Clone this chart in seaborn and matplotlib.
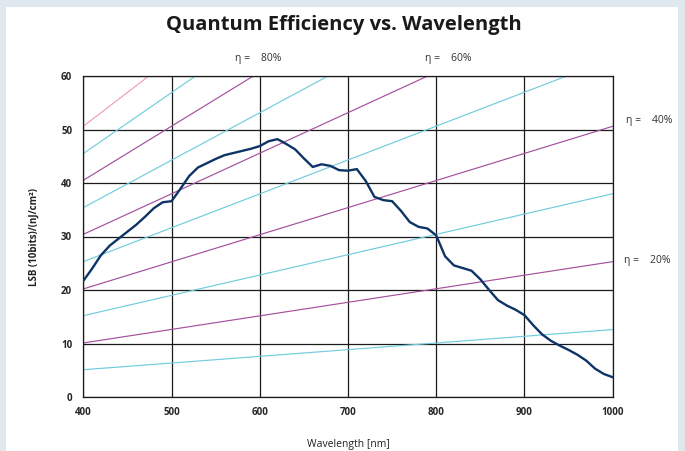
import numpy as np
import pandas as pd
import matplotlib
matplotlib.use("Agg")
import matplotlib.pyplot as plt
from matplotlib.patches import Rectangle
import seaborn as sns

# --- Data ---
wavelength = [400, 410, 420, 430, 440, 450, 460, 470, 480, 490,
              500, 510, 520, 530, 540, 550, 560, 570, 580, 590,
              600, 610, 620, 630, 640, 650, 660, 670, 680, 690,
              700, 710, 720, 730, 740, 750, 760, 770, 780, 790,
              800, 810, 820, 830, 840, 850, 860, 870, 880, 890,
              900, 910, 920, 930, 940, 950, 960, 970, 980, 990, 1000]
lsb = [21.7, 24.0, 26.5, 28.3, 29.6, 30.9, 32.2, 33.7, 35.3, 36.4,
       36.6, 38.9, 41.3, 42.9, 43.7, 44.5, 45.2, 45.6, 46.0, 46.4,
       46.9, 47.8, 48.2, 47.3, 46.3, 44.6, 43.0, 43.5, 43.2, 42.4,
       42.3, 42.6, 40.4, 37.4, 36.8, 36.6, 34.8, 32.7, 31.8, 31.5,
       30.2, 26.3, 24.6, 24.1, 23.6, 22.0, 20.0, 18.1, 17.1, 16.3,
       15.3, 13.4, 11.7, 10.5, 9.6, 8.8, 7.9, 6.8, 5.3, 4.3, 3.7]

# iso-efficiency lines: value at 400 nm and at 1000 nm
eta_pct = [10, 20, 30, 40, 50, 60, 70, 80, 90, 100]
eta_at_400 = [5.1, 10.1, 15.2, 20.2, 25.3, 30.4, 35.4, 40.5, 45.5, 50.6]
eta_at_1000 = [12.6, 25.3, 38.0, 50.6, 63.3, 75.9, 88.6, 101.2, 113.9, 126.5]
eta_colors = ["#72CCDD", "#A4509E", "#72CCDD", "#A4509E", "#72CCDD",
              "#A4509E", "#72CCDD", "#A4509E", "#72CCDD", "#F29BC0"]

x_ticks = [400, 500, 600, 700, 800, 900, 1000]
y_ticks = [0, 10, 20, 30, 40, 50, 60]

# --- Build tables ---
curve = pd.DataFrame({"Wavelength": wavelength, "LSB": lsb})
iso = pd.DataFrame({
    "Wavelength": [400] * len(eta_pct) + [1000] * len(eta_pct),
    "LSB": eta_at_400 + eta_at_1000,
    "eta": eta_pct + eta_pct,
})

sns.set_style("white")
plt.rcParams['font.family'] = ['Open Sans', 'DejaVu Sans']

fig = plt.figure(figsize=(6.85, 4.51), dpi=100)
fig.patch.set_facecolor("#dfe7ef")
# white panel behind the chart
fig.patches.append(Rectangle((6 / 685, 0), 672 / 685, 444 / 451,
                             transform=fig.transFigure, facecolor="white",
                             edgecolor="none", zorder=-5))
ax = fig.add_axes([83.3 / 685, 54 / 451, 529.4 / 685, 321 / 451])
ax.set_zorder(2)
ax.set_facecolor("white")

# iso-efficiency lines
sns.lineplot(data=iso, x="Wavelength", y="LSB", hue="eta",
             palette=dict(zip(eta_pct, eta_colors)), linewidth=0.85,
             legend=False, ax=ax, zorder=2)

# measured curve
sns.lineplot(data=curve, x="Wavelength", y="LSB", color="#0E3466",
             linewidth=1.7, ax=ax, zorder=3)

ax.set_xlim(400, 1000)
ax.set_ylim(0, 60)
ax.set_xticks(x_ticks)
ax.set_yticks(y_ticks)
ax.grid(True, color="#1a1a1a", linewidth=0.9, zorder=1)
ax.set_axisbelow(True)
for s in ax.spines.values():
    s.set_color("#1a1a1a")
    s.set_linewidth(0.9)
ax.tick_params(axis="both", direction="out", length=4, width=0.9,
               color="#1a1a1a", labelsize=7, pad=4)
ax.tick_params(axis="x", pad=3)
for lab in ax.get_xticklabels() + ax.get_yticklabels():
    lab.set_fontweight("bold")

ax.set_xlabel("Wavelength [nm]", fontsize=7.5, labelpad=15, color="#222222")
ax.set_ylabel("LSB (10bits)/(nJ/cm²)", fontsize=7, fontweight="bold",
              labelpad=15, color="#222222")

fig.text(344 / 685, 1 - 25 / 451, "Quantum Efficiency vs. Wavelength",
         ha="center", va="center", fontsize=14.5, fontweight="bold",
         color="#1a1a1a")

# efficiency labels
lbl = dict(fontsize=7.5, color="#333333", va="center", ha="left")
fig.text(235 / 685, 1 - 59 / 451, "η =    80%", **lbl)
fig.text(425 / 685, 1 - 59 / 451, "η =    60%", **lbl)
fig.text(626 / 685, 1 - 121 / 451, "η =    40%", **lbl)
fig.text(624 / 685, 1 - 260 / 451, "η =    20%", **lbl)

plt.savefig("out.png", dpi=100, facecolor=fig.get_facecolor())
